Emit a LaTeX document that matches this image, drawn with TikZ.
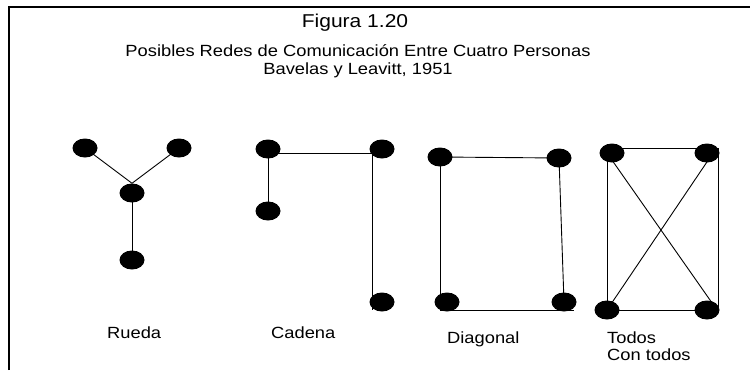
\documentclass[tikz,border=0pt]{standalone}
\usepackage{fontspec}
\setmainfont[FakeStretch=1.13]{Liberation Sans}
\usetikzlibrary{shapes.geometric,backgrounds}
\begin{document}
\begin{tikzpicture}[x=1pt,y=-1pt,
  dot/.style={ellipse,fill=black,draw=none,minimum width=25pt,minimum height=19pt,inner sep=0pt},
  edge/.style={line width=0.9pt,black},
  frame/.style={line width=1.6pt,black},
  lbl/.style={anchor=base west,inner sep=0pt,font=\fontsize{16.2}{18}\selectfont},
  ttl/.style={anchor=base,inner sep=0pt,font=\fontsize{16.2}{18}\selectfont},
  big/.style={anchor=base,inner sep=0pt,font=\fontsize{18.6}{20}\selectfont}]
\useasboundingbox (0,0) rectangle (750,370);
% frame
\coordinate (fb) at (9,370);
\coordinate (fc) at (9,7);
\coordinate (fr) at (750,7);
\draw[frame] (fb) -- (fc) -- (fr);
% titles
\node[big] (fig) at (355,27) {Figura 1.20};
\node[ttl] (sub1) at (358,56) {Posibles Redes de Comunicación Entre Cuatro Personas};
\node[ttl] (sub2) at (358,74) {Bavelas y Leavitt, 1951};
% Rueda
\node[dot] (r1) at (85,148) {};
\node[dot] (r2) at (179,148) {};
\node[dot] (r0) at (132,193) {};
\node[dot] (r3) at (132,260) {};
% Cadena
\node[dot] (c1) at (268,149) {};
\node[dot] (c2) at (268,211) {};
\node[dot] (c3) at (382,149) {};
\node[dot] (c4) at (382,302) {};
% Diagonal
\node[dot] (d1) at (440,157) {};
\node[dot] (d2) at (559,158) {};
\node[dot] (d3) at (447,302) {};
\node[dot] (d4) at (564,302) {};
% Todos
\node[dot] (t1) at (612,153) {};
\node[dot] (t2) at (707,153) {};
\node[dot] (t3) at (607,310) {};
\node[dot] (t4) at (707,310) {};
% edges (behind dots)
\begin{pgfonlayer}{background}
\draw[edge] (r1.center) -- (r0.north);
\draw[edge] (r2.center) -- (r0.north);
\draw[edge] (r0.center) -- (r3.center);
\draw[edge] (c1.center) -- (c2.center);
\draw[edge] ([yshift=-4pt]c1.center) -- ([xshift=-10pt,yshift=-4pt]c3.center) -- ([xshift=-10pt,yshift=-8pt]c4.center);
\draw[edge] (d1.center) -- (d2.center);
\draw[edge] (d2.center) -- (d4.center);
\draw[edge] (d1.center) |- ([xshift=10pt,yshift=-8pt]d4.center);
\draw[edge] ([xshift=-5pt]t1.center) -- (t3.center) -- (t4.center);
\draw[edge] ([yshift=5pt]t1.center) -- ([xshift=11pt,yshift=5pt]t2.center) -- ([xshift=11pt]t4.center);
\draw[edge] ([xshift=-5pt]t1.center) -- ([xshift=10pt]t4.center);
\draw[edge] ([xshift=6pt]t2.center) -- (t3.center);
\end{pgfonlayer}
% labels
\node[lbl] (lr) at (107,338) {Rueda};
\node[lbl] (lc) at (271,338) {Cadena};
\node[lbl] (ld) at (447,343) {Diagonal};
\node[lbl] (lt1) at (607,343) {Todos};
\node[lbl] (lt2) at (607,360) {Con todos};
\end{tikzpicture}
\end{document}
